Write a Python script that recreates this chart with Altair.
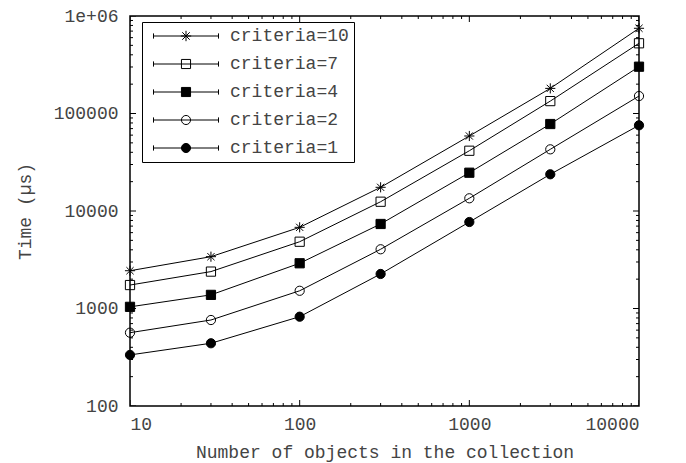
import altair as alt
import pandas as pd

# ---- data ----
sizes = [10, 30, 100, 300, 1000, 3000, 10000]
series_names = ["criteria=10", "criteria=7", "criteria=4", "criteria=2", "criteria=1"]
crit10 = [2440, 3400, 6800, 17500, 58800, 181000, 748000]
crit7 = [1740, 2390, 4840, 12450, 41500, 134000, 525000]
crit4 = [1040, 1380, 2910, 7360, 24700, 78000, 302000]
crit2 = [565, 762, 1520, 4050, 13500, 42900, 151000]
crit1 = [334, 440, 824, 2260, 7710, 23800, 75700]

x_major = [10, 100, 1000, 10000]
x_minor = [20, 30, 40, 50, 60, 70, 80, 90,
           200, 300, 400, 500, 600, 700, 800, 900,
           2000, 3000, 4000, 5000, 6000, 7000, 8000, 9000]
y_major = [100, 1000, 10000, 100000, 1000000]
y_minor = [200, 300, 400, 500, 600, 700, 800, 900,
           2000, 3000, 4000, 5000, 6000, 7000, 8000, 9000,
           20000, 30000, 40000, 50000, 60000, 70000, 80000, 90000,
           200000, 300000, 400000, 500000, 600000, 700000, 800000, 900000]

rows = []
for name, vals in zip(series_names, [crit10, crit7, crit4, crit2, crit1]):
    for n, t in zip(sizes, vals):
        rows.append({"n": n, "t": t, "criteria": name})
df = pd.DataFrame(rows)

W, H = 509, 390
FONT = "Liberation Mono"
TXT = "#444444"

X_MIN, X_MAX = 10, 10000
Y_MIN, Y_MAX = 100, 1000000
xs = alt.Scale(type="log", domain=[X_MIN, X_MAX], nice=False)
ys = alt.Scale(type="log", domain=[Y_MIN, Y_MAX], nice=False)

star = "M-1.1,0L1.1,0M0,-1.1L0,1.1M-0.78,-0.78L0.78,0.78M-0.78,0.78L0.78,-0.78"
point_shapes = [star, "square", "square", "circle", "circle"]
point_fills = ["transparent", "transparent", "black", "transparent", "black"]

cap = "M-1,0L1,0M-1,-0.08L-1,0.08M1,-0.08L1,0.08"
leg_star = cap + "M-0.16,0L0.16,0M0,-0.16L0,0.16M-0.115,-0.115L0.115,0.115M-0.115,0.115L0.115,-0.115"
leg_sq = cap + "M-0.14,-0.14L0.14,-0.14L0.14,0.14L-0.14,0.14Z"
leg_circ = cap + "M-0.14,0A0.14,0.14 0 1,0 0.14,0A0.14,0.14 0 1,0 -0.14,0Z"
legend_shapes = [leg_star, leg_sq, leg_sq, leg_circ, leg_circ]
legend_fills = ["white", "white", "black", "white", "black"]
legend_strokes = ["black", "black", "black", "black", "black"]

base = alt.Chart(df)

lines = base.mark_line(color="black", strokeWidth=1).encode(
    x=alt.X("n:Q", scale=xs, axis=alt.Axis(
        orient="bottom", values=x_major, format="d", ticks=False, domain=False,
        grid=False, labelPadding=9, labelFont=FONT, labelFontSize=18, labelColor=TXT,
        title="Number of objects in the collection", titleFont=FONT, titleFontSize=18,
        titleFontWeight="normal", titleColor=TXT, titlePadding=10)),
    y=alt.Y("t:Q", scale=ys, axis=alt.Axis(
        orient="left", values=y_major,
        labelExpr="datum.value >= 1000000 ? '1e+06' : format(datum.value, 'd')",
        ticks=False, domain=False, grid=False, labelPadding=12, labelFont=FONT,
        labelFontSize=18, labelColor=TXT, title="Time (µs)", titleFont=FONT,
        titleFontSize=18, titleFontWeight="normal", titleColor=TXT, titlePadding=19)),
    detail="criteria:N",
)

points = base.mark_point(size=85, strokeWidth=1, opacity=1).encode(
    x=alt.X("n:Q", scale=xs, axis=None),
    y=alt.Y("t:Q", scale=ys, axis=None),
    shape=alt.Shape("criteria:N", scale=alt.Scale(domain=series_names, range=point_shapes), legend=None),
    fill=alt.Fill("criteria:N", scale=alt.Scale(domain=series_names, range=point_fills), legend=None),
    stroke=alt.value("black"),
)

leg = alt.Legend(
    orient="none", legendX=12, legendY=6, title=None,
    strokeColor="black", fillColor="white", padding=5, cornerRadius=0,
    symbolSize=4225, symbolStrokeWidth=1, symbolStrokeColor="black",
    symbolOffset=6, labelOffset=11, rowPadding=10, clipHeight=18,
    labelFont=FONT, labelFontSize=18, labelColor=TXT, labelLimit=0)

legend_layer = base.transform_filter("false").mark_point(size=4225, strokeWidth=1, opacity=1).encode(
    x=alt.X("n:Q", scale=xs, axis=None),
    y=alt.Y("t:Q", scale=ys, axis=None),
    shape=alt.Shape("criteria:N", scale=alt.Scale(domain=series_names, range=legend_shapes), legend=leg),
    fill=alt.Fill("criteria:N", scale=alt.Scale(domain=series_names, range=legend_fills), legend=leg),
    stroke=alt.Stroke("criteria:N", scale=alt.Scale(domain=series_names, range=legend_strokes), legend=leg),
)


# inward ticks on all four edges: tick marks centred on the frame, clipped to the plot
def x_ticks(values, length, edge):
    return alt.Chart(pd.DataFrame({"v": values})).mark_tick(
        orient="vertical", size=length, thickness=1, color="black", opacity=1, clip=True
    ).encode(x=alt.X("v:Q", scale=xs, axis=None), y=alt.datum(edge, scale=ys, axis=None))


def y_ticks(values, length, edge):
    return alt.Chart(pd.DataFrame({"v": values})).mark_tick(
        orient="horizontal", size=length, thickness=1, color="black", opacity=1, clip=True
    ).encode(y=alt.Y("v:Q", scale=ys, axis=None), x=alt.datum(edge, scale=xs, axis=None))


tick_layers = [
    x_ticks(x_major, 12, Y_MIN), x_ticks(x_minor, 6, Y_MIN),
    x_ticks(x_major, 12, Y_MAX), x_ticks(x_minor, 6, Y_MAX),
    y_ticks(y_major, 12, X_MIN), y_ticks(y_minor, 6, X_MIN),
    y_ticks(y_major, 12, X_MAX), y_ticks(y_minor, 6, X_MAX),
]

chart = alt.layer(lines, *tick_layers, points, legend_layer).resolve_scale(
    shape="independent", fill="independent", stroke="independent"
).resolve_axis(
    x="independent", y="independent"
).properties(
    width=W, height=H,
    autosize=alt.AutoSizeParams(type="none"),
    padding={"left": 130, "top": 16, "right": 686 - 130 - W, "bottom": 463 - 16 - H},
    background="white",
).configure_view(stroke="black", strokeWidth=1.5)

chart.save("out.html", embed_options={"renderer": "svg", "actions": False})
